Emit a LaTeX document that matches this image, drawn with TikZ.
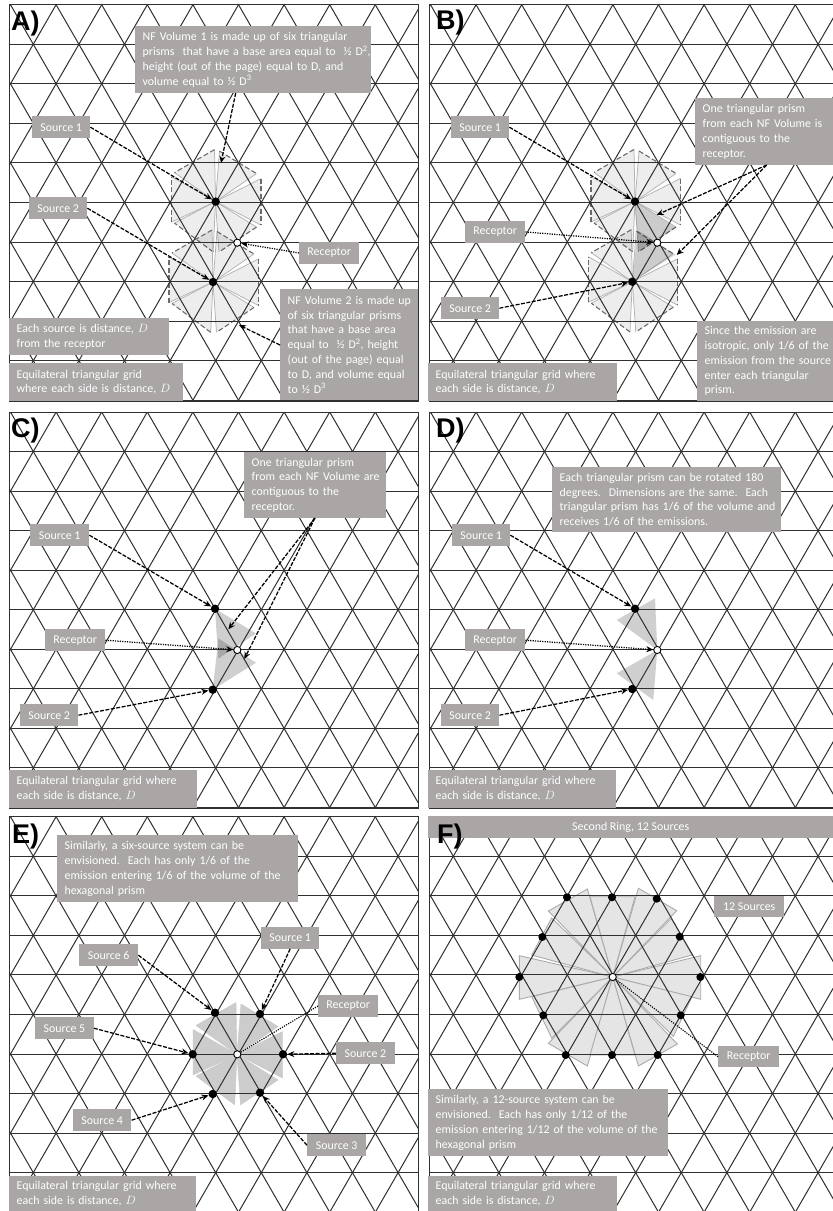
\documentclass[tikz,border=0pt]{standalone}
\usepackage{fontspec}
\setmainfont{Carlito}
\newfontfamily\panelfont{Liberation Sans}[BoldFont={Liberation Sans Bold}]
\usepackage{tikz}
\usetikzlibrary{arrows.meta}
\usepackage{xcolor}
\definecolor{notegray}{HTML}{A9A6A5}
\definecolor{griddark}{HTML}{303030}

\tikzset{
    gridline/.style={griddark, line width=1pt},
    srcdot/.style={circle, fill=black, inner sep=0pt, minimum size=8.4pt},
    recdot/.style={circle, draw=black, fill=white, line width=.9pt, inner sep=0pt, minimum size=7.2pt},
    tag/.style n args={2}{fill=notegray, text=white, inner sep=0pt, align=center, anchor=north west, minimum width=#1, minimum height=#2},
    note/.style n args={2}{fill=notegray, text=white, inner sep=0pt, align=left, anchor=north west, text width=#1, minimum height=#2,
        execute at begin node={\leftskip=7.5pt\relax}},
    panelname/.style={font=\panelfont\bfseries\fontsize{27}{27}\selectfont, anchor=base west, inner sep=0pt},
    dasharr/.style={black, line width=1.25pt, dash pattern=on 4pt off 1.5pt, -{Stealth[length=7pt, width=6pt]}},
    dotarr/.style={black, line width=1.25pt, dash pattern=on 1.2pt off 1.2pt, -{Stealth[length=7pt, width=6pt]}},
    dotline/.style={black, line width=1.1pt, dash pattern=on 1.2pt off 1.2pt},
    paleprism/.style={fill=black, fill opacity=.07},
    paleedge/.style={draw=black!30, line width=.75pt},
    paleouter/.style={draw=black!58, line width=1.1pt, dash pattern=on 5pt off 2.5pt},
    darkprism/.style={fill=black, fill opacity=.19},
    darkerprism/.style={fill=black, fill opacity=.14},
    wedge/.style={fill=black!20, draw=black!22, line width=.4pt},
    ringwedge/.style={fill=black!10, draw=black!33, line width=.9pt},
}

% triangular grid clipped to one panel: dx, dy, right edge, bottom edge
\newcommand{\trigrid}[4]{
    \begin{scope}[shift={(#1,#2)}]
        \begin{scope}
            \clip (9.5,4.7) rectangle (#3,#4);
            \foreach \rowi in {1,...,10}
                \draw[gridline] (0,4.7+39.55*\rowi) -- (430,4.7+39.55*\rowi);
            \foreach \coli in {-9,...,18} {
                \draw[gridline] (56.1+45.6*\coli,4.7) -- ++(250.8,435.05);
                \draw[gridline] (56.1+45.6*\coli,4.7) -- ++(-250.8,435.05);
            }
        \end{scope}
        \draw[gridline] (9.5,4.7) rectangle (#3,#4);
    \end{scope}
}

% six prisms around a centre, drawn with the style given in #3
\newcommand{\prismsix}[3]{
    \begin{scope}[shift={(#1,#2)}]
        \foreach \ax/\ay/\bx/\by in {-1/-52/-41/-29, 4/-50.5/41/-28, 45.5/-23/45.5/23.5,
                41/25.5/3.5/50.3, -2.3/50.3/-41/21.5, -44/20.5/-44/-25} {
            #3
        }
    \end{scope}
}
\newcommand{\palestroke}{
    \fill[paleprism] (0,0) -- (\ax,\ay) -- (\bx,\by) -- cycle;
    \draw[paleedge] (\ax,\ay) -- (0,0) -- (\bx,\by);
    \draw[paleouter] (\ax,\ay) -- (\bx,\by);
}

\begin{document}
\begin{tikzpicture}[x=1pt, y=-1pt, font=\fontsize{11.9}{14.8}\selectfont]

    \useasboundingbox (0,0) rectangle (833,1211);

    % Prisms go under the grid lines
    \prismsix{215.5}{201.6}{\palestroke}
    \prismsix{213}{282}{\palestroke}
    \prismsix{635}{201.5}{\palestroke}
    \prismsix{632.3}{281.7}{\palestroke}

    % Darker prisms beside the receptor, panel B
    \fill[darkerprism] (635,201.5) -- (676,228) -- (638.5,251.8) -- cycle;
    \fill[darkerprism] (632.3,281.7) -- (675.6,254.7) -- (638,230.4) -- cycle;

    % Same two prisms, panel C
    \fill[darkprism] (215,608.7) -- (256,633.4) -- (218.3,658.7) -- cycle;
    \fill[darkprism] (212.7,689.7) -- (256,662.7) -- (218.4,638.4) -- cycle;

    % Rotated prisms, panel D
    \fill[darkprism] (657.3,650) -- (655,598.3) -- (616.7,620) -- cycle;
    \fill[darkprism] (657.3,650) -- (653.3,700) -- (616.7,673.3) -- cycle;

    % Six prisms, panel E
    \prismsix{237}{1054.5}{\path[wedge] (0,0) -- (\ax,\ay) -- (\bx,\by) -- cycle;}

    % Twelve prisms, panel F
    \begin{scope}[shift={(612.7,977)}]
        \foreach \ax/\ay/\bx/\by in {-64.3/-66/-25.3/-88, 25.7/-88.7/64/-66.3, -93.3/-21.3/-93.3/22.3,
                88/-21.3/88/22.3, -64.3/66.3/-25.3/89, 25.7/89/64.7/67, -22.7/-80.3/22.3/-80.3,
                -22.7/78/22.3/78, 58.7/-58.7/79.3/-22, 79.3/19.7/60.7/59.3,
                -61/-59/-81/-22, -81/19.7/-61/61} {
            \path[ringwedge] (0,0) -- (\ax,\ay) -- (\bx,\by) -- cycle;
        }
    \end{scope}

    % Grids, one per panel
    \trigrid{0}{0}{418}{401}
    \trigrid{420}{0}{415}{401}
    \trigrid{0}{407.3}{418}{401}
    \trigrid{420}{407.3}{415}{401}
    \trigrid{0}{812}{418}{401}
    \trigrid{420}{812}{415}{401}

    % Panel A
    \node[srcdot] (A_src1) at (215.7,201.6) {};
    \node[srcdot] (A_src2) at (213,282) {};
    \node[recdot] (A_rec) at (237.3,242.7) {};
    \node[note={236pt}{67pt}] (A_nf1) at (135,26) {NF Volume 1 is made up of six triangular\\prisms\ \ that have a base area equal to\ \ ½ D\textsuperscript{2},\\height (out of the page) equal to D, and\\volume equal to ½ D\textsuperscript{3}};
    \node[tag={58pt}{22pt}] (A_lab1) at (32,116) {Source 1};
    \node[tag={58pt}{22pt}] (A_lab2) at (29,197) {Source 2};
    \node[tag={60pt}{21.5pt}] (A_labr) at (299,242) {Receptor};
    \node[note={138pt}{111pt}] (A_nf2) at (280,289) {NF Volume 2 is made up\\of six triangular prisms\\that have a base area\\equal to\ \ ½ D\textsuperscript{2}, height\\(out of the page) equal\\to D, and volume equal\\to ½ D\textsuperscript{3}};
    \node[note={160pt}{37pt}] (A_each) at (9,318) {Each source is distance, $D$\\from the receptor};
    \node[note={174pt}{38pt}] (A_equi) at (9,363) {Equilateral triangular grid\\where each side is distance, $D$};
    \node[panelname] (A_name) at (11,30) {A)};
    \coordinate (A_nf1_tail) at (235.7,93);
    \coordinate (A_nf1_tip) at (221,163);
    \coordinate (A_nf2_tail) at (280,345);
    \coordinate (A_nf2_tip) at (239,325);
    \draw[dasharr] (A_lab1.east) -- (A_src1);
    \draw[dasharr] (A_lab2.east) -- (A_src2);
    \draw[dotarr] (A_labr.west) -- (A_rec);
    \draw[dasharr] (A_nf1_tail) -- (A_nf1_tip);
    \draw[dasharr] (A_nf2_tail) -- (A_nf2_tip);

    % Panel B
    \node[srcdot] (B_src1) at (635,201.5) {};
    \node[srcdot] (B_src2) at (632.3,281.7) {};
    \node[recdot] (B_rec) at (657.3,242.7) {};
    \node[tag={58pt}{22pt}] (B_lab1) at (451,116) {Source 1};
    \node[tag={60pt}{22.5pt}] (B_labr) at (465,220.5) {Receptor};
    \node[tag={58pt}{22pt}] (B_lab2) at (441,297) {Source 2};
    \node[note={145pt}{67pt}] (B_one) at (695,98) {One triangular prism\\from each NF Volume is\\contiguous to the\\receptor.};
    \node[note={145pt}{80pt}] (B_since) at (697,321) {Since the emission are\\isotropic, only 1/6 of the\\emission from the source\\enter each triangular\\prism.};
    \node[note={188.5pt}{38pt}] (B_equi) at (428,363) {Equilateral triangular grid where\\each side is distance, $D$};
    \node[panelname] (B_name) at (436,29) {B)};
    \coordinate (B_one_tail) at (766.7,165);
    \coordinate (B_one_tip1) at (656.7,215);
    \coordinate (B_one_tip2) at (676.7,255);
    \draw[dasharr] (B_lab1.east) -- (B_src1);
    \draw[dotarr] (B_labr.east) -- (B_rec);
    \draw[dasharr] (B_lab2.east) -- (B_src2);
    \draw[dasharr] (B_one_tail) -- (B_one_tip1);
    \draw[dasharr] (B_one_tail) -- (B_one_tip2);

    % Panel C
    \node[srcdot] (C_src1) at (215,608.7) {};
    \node[srcdot] (C_src2) at (212.7,689.7) {};
    \node[recdot] (C_rec) at (237.3,650) {};
    \node[note={142pt}{66pt}] (C_one) at (244,452) {One triangular prism\\from each NF Volume are\\contiguous to the\\receptor.};
    \node[tag={59pt}{22pt}] (C_lab1) at (30,524) {Source 1};
    \node[tag={60pt}{22pt}] (C_labr) at (45,629) {Receptor};
    \node[tag={58pt}{22pt}] (C_lab2) at (20,704) {Source 2};
    \node[note={188pt}{37.5pt}] (C_equi) at (9,770) {Equilateral triangular grid where\\each side is distance, $D$};
    \node[panelname] (C_name) at (11,437) {C)};
    \coordinate (C_one_tail) at (315,518);
    \coordinate (C_one_tip1) at (228.3,629.3);
    \coordinate (C_one_tip2) at (244.3,659);
    \draw[dasharr] (C_lab1.east) -- (C_src1);
    \draw[dotarr] (C_labr.east) -- (C_rec);
    \draw[dasharr] (C_lab2.east) -- (C_src2);
    \draw[dasharr] (C_one_tail) -- (C_one_tip1);
    \draw[dasharr] (C_one_tail) -- (C_one_tip2);

    % Panel D
    \node[srcdot] (D_src1) at (635,608.7) {};
    \node[srcdot] (D_src2) at (632.3,689) {};
    \node[recdot] (D_rec) at (657.3,650) {};
    \node[note={229pt}{65pt}] (D_each) at (552,467) {Each triangular prism can be rotated 180\\degrees.\ \ Dimensions are the same.\ \ Each\\triangular prism has 1/6 of the volume and\\receives 1/6 of the emissions.};
    \node[tag={58pt}{22pt}] (D_lab1) at (452,524) {Source 1};
    \node[tag={60pt}{22pt}] (D_labr) at (465,629) {Receptor};
    \node[tag={58pt}{22pt}] (D_lab2) at (441,704) {Source 2};
    \node[note={188pt}{37.5pt}] (D_equi) at (428,770) {Equilateral triangular grid where\\each side is distance, $D$};
    \node[panelname] (D_name) at (436,437) {D)};
    \draw[dasharr] (D_lab1.east) -- (D_src1);
    \draw[dotarr] (D_labr.east) -- (D_rec);
    \draw[dasharr] (D_lab2.east) -- (D_src2);

    % Panel E
    \node[srcdot] (E_src1) at (260,1014) {};
    \node[srcdot] (E_src2) at (283,1054.3) {};
    \node[srcdot] (E_src3) at (260,1092.7) {};
    \node[srcdot] (E_src4) at (212.7,1094) {};
    \node[srcdot] (E_src5) at (192.7,1054.3) {};
    \node[srcdot] (E_src6) at (215,1012.7) {};
    \node[recdot] (E_rec) at (237.3,1054.3) {};
    \node[note={241pt}{67pt}] (E_sim) at (57,835) {Similarly, a six-source system can be\\envisioned.\ \ Each has only 1/6 of the\\emission entering 1/6 of the volume of the\\hexagonal prism};
    \node[tag={58.5pt}{22pt}] (E_lab1) at (260.7,926.5) {Source 1};
    \node[tag={58.5pt}{22pt}] (E_lab2) at (336,1042) {Source 2};
    \node[tag={59pt}{22pt}] (E_lab3) at (307,1134) {Source 3};
    \node[tag={58.5pt}{22pt}] (E_lab4) at (72.7,1109) {Source 4};
    \node[tag={58.5pt}{22pt}] (E_lab5) at (35,1017) {Source 5};
    \node[tag={59pt}{22pt}] (E_lab6) at (79,944) {Source 6};
    \node[tag={60pt}{22.5pt}] (E_labr) at (318,994.5) {Receptor};
    \node[note={187pt}{35pt}] (E_equi) at (9,1176) {Equilateral triangular grid where\\each side is distance, $D$};
    \node[panelname] (E_name) at (12,843) {E)};
    \draw[dasharr] (E_lab1.south) -- (E_src1);
    \draw[dasharr] (E_lab2.west) -- (E_src2);
    \draw[dasharr] (E_lab3.west) -- (E_src3);
    \draw[dasharr] (E_lab4.east) -- (E_src4);
    \draw[dasharr] (E_lab5.east) -- (E_src5);
    \draw[dasharr] (E_lab6.east) -- (E_src6);
    \draw[dotline] (E_labr.west) -- (E_rec);

    % Panel F
    \foreach \dotnum/\dotx/\doty in {1/567/897.3, 2/612/897.3, 3/656.7/898.7, 4/542.3/937,
            5/679.7/936.7, 6/519.3/977, 7/700.3/977, 8/543.3/1015.3, 9/680.7/1015.3,
            10/565.7/1055, 11/612/1055, 12/657.7/1055}
        \node[srcdot, minimum size=8pt] (F_src\dotnum) at (\dotx,\doty) {};
    \node[recdot] (F_rec) at (612.7,977) {};
    \node[tag={405pt}{22pt}] (F_ring) at (428,816) {Second Ring, 12 Sources};
    \node[tag={70pt}{21pt}] (F_twelve) at (714,896) {12 Sources};
    \node[tag={61pt}{21pt}] (F_labr) at (718,1046) {Receptor};
    \node[note={240pt}{67pt}] (F_sim) at (428,1089) {Similarly, a 12-source system can be\\envisioned.\ \ Each has only 1/12 of the\\emission entering 1/12 of the volume of the\\hexagonal prism};
    \node[note={189pt}{35pt}] (F_equi) at (428,1176) {Equilateral triangular grid where\\each side is distance, $D$};
    \node[panelname] (F_name) at (437,843) {F)};
    \draw[dotline] (F_labr.west) -- (F_rec);

\end{tikzpicture}
\end{document}
